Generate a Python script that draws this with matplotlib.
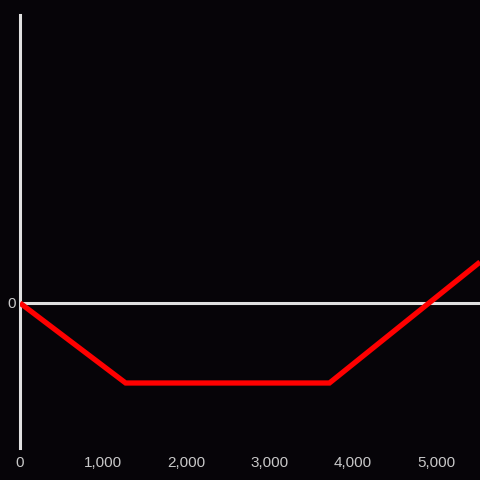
import matplotlib
matplotlib.use("Agg")
import matplotlib.pyplot as plt
from matplotlib.ticker import FuncFormatter

# payoff profile
price = [0, 1270, 3720, 5530]
payoff = [0, -80, -80, 41]
x_ticks = [0, 1000, 2000, 3000, 4000, 5000]

bg = "#060408"
axis_col = "#e0e0e0"
text_col = "#c8c8c8"

plt.rcParams['font.family'] = ['Liberation Sans', 'DejaVu Sans']

fig = plt.figure(figsize=(4.8, 4.8), dpi=100, facecolor=bg)
ax = fig.add_axes([20 / 480, 32 / 480, 460 / 480, 433 / 480])
ax.set_facecolor(bg)

ax.axhline(0, color=axis_col, linewidth=2.2, zorder=1)
ax.plot(price, payoff, color="#ff0000", linewidth=3.8, solid_capstyle="butt",
        solid_joinstyle="miter", zorder=3)

ax.set_xlim(0, 5530)
ax.set_ylim(-145, 288)

for side in ["top", "right", "bottom"]:
    ax.spines[side].set_visible(False)
ax.spines["left"].set_color(axis_col)
ax.spines["left"].set_linewidth(2.2)
ax.spines["left"].set_zorder(2)

ax.set_xticks(x_ticks)
ax.xaxis.set_major_formatter(FuncFormatter(lambda v, p: f"{int(v):,}"))
ax.set_yticks([0])
ax.tick_params(axis="both", length=0, colors=text_col, labelsize=11)
ax.tick_params(axis="x", pad=6)
ax.tick_params(axis="y", pad=3)

fig.savefig("out.png", dpi=100, facecolor=bg)
